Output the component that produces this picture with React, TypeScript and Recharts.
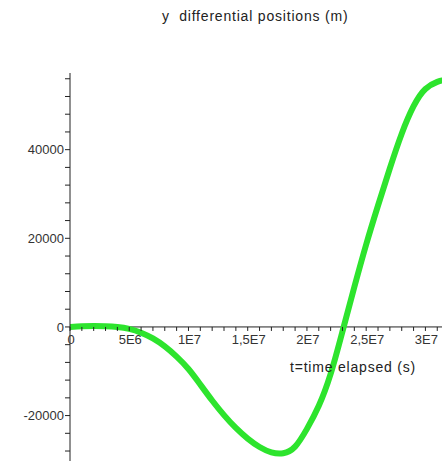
import React from "react";
import { LineChart, Line, XAxis, YAxis, ReferenceLine, ReferenceDot } from "recharts";

// elapsed time (s) and y differential position (m)
const timeValues = [
  0, 1e6, 2e6, 3e6, 4e6, 5e6, 6e6, 7e6, 8e6, 9e6, 10e6, 11e6, 12e6, 13e6, 14e6, 15e6,
  16e6, 17e6, 18e6, 19e6, 20e6, 21e6, 22e6, 23e6, 24e6, 25e6, 26e6, 27e6, 28e6, 29e6,
  30e6, 31e6, 31.4e6,
];
const yPositions = [
  0, 150, 220, 160, -20, -450, -1300, -2600, -4400, -6700, -9500, -13000, -16600, -19900,
  -22800, -25200, -27100, -28300, -28500, -27000, -23000, -17800, -10600, -1000, 9000,
  18600, 27400, 35800, 43600, 49800, 53700, 55300, 55600,
];

const yTicks = [
  -28000, -24000, -20000, -16000, -12000, -8000, -4000, 0, 4000, 8000, 12000, 16000,
  20000, 24000, 28000, 32000, 36000, 40000, 44000, 48000, 52000, 56000,
];
const xMajorTicks = [0, 5e6, 10e6, 15e6, 20e6, 25e6, 30e6];
const xTickLabels = ["0", "5E6", "1E7", "1,5E7", "2E7", "2,5E7", "3E7"];
const xMinorTicks = [
  1e6, 2e6, 3e6, 4e6, 6e6, 7e6, 8e6, 9e6, 11e6, 12e6, 13e6, 14e6, 16e6, 17e6, 18e6, 19e6,
  21e6, 22e6, 23e6, 24e6, 26e6, 27e6, 28e6, 29e6, 31e6,
];

const data = timeValues.map((t, i) => ({ t, y: yPositions[i] }));

const FONT = '"Liberation Sans", Arial, sans-serif';
const AXIS = "#222";

const xTickShape = (label: string | null) => (props: any) => {
  const { cx, cy } = props;
  return (
    <g>
      <line x1={cx} y1={cy} x2={cx} y2={cy + 4} stroke={AXIS} strokeWidth={1} />
      {label !== null && (
        <text x={cx + 1} y={cy + 17} textAnchor="middle" fontSize={13} fontFamily={FONT} fill="#333">
          {label}
        </text>
      )}
    </g>
  );
};

export default function App() {
  return (
    <div style={{ position: "absolute", left: 0, top: 0, width: 447, height: 465, background: "#fff" }}>
      <div
        style={{
          position: "absolute", left: 162, top: 8, fontFamily: FONT, fontSize: 14,
          letterSpacing: 0.8, color: "#222", whiteSpace: "pre",
        }}
      >
        {"y  differential positions (m)"}
      </div>
      <LineChart width={447} height={465} data={data} margin={{ top: 73, right: 5, bottom: 4, left: 0 }}>
        <XAxis dataKey="t" type="number" domain={[0, 31.4e6]} hide allowDataOverflow />
        <YAxis
          type="number"
          domain={[-30250, 57300]}
          ticks={yTicks}
          interval={0}
          width={70}
          tickSize={5}
          tickMargin={1}
          allowDataOverflow
          stroke={AXIS}
          tick={{ fontSize: 13, fontFamily: FONT, fill: "#333" }}
          tickFormatter={(v: number) => (v % 20000 === 0 ? String(v) : "")}
        />
        <ReferenceLine y={0} stroke={AXIS} strokeWidth={1} />
        {xMinorTicks.map((t) => (
          <ReferenceDot key={"m" + t} x={t} y={0} r={0} ifOverflow="visible" shape={xTickShape(null)} />
        ))}
        {xMajorTicks.map((t, i) => (
          <ReferenceDot key={"M" + t} x={t} y={0} r={0} ifOverflow="visible" shape={xTickShape(xTickLabels[i])} />
        ))}
        <Line
          type="natural"
          dataKey="y"
          stroke="#2de42d"
          strokeWidth={6}
          strokeLinecap="round"
          dot={false}
          isAnimationActive={false}
        />
      </LineChart>
      <div
        style={{
          position: "absolute", left: 290, top: 359, fontFamily: FONT, fontSize: 14,
          letterSpacing: 0.8, color: "#222", whiteSpace: "pre",
        }}
      >
        t=time elapsed (s)
      </div>
    </div>
  );
}
